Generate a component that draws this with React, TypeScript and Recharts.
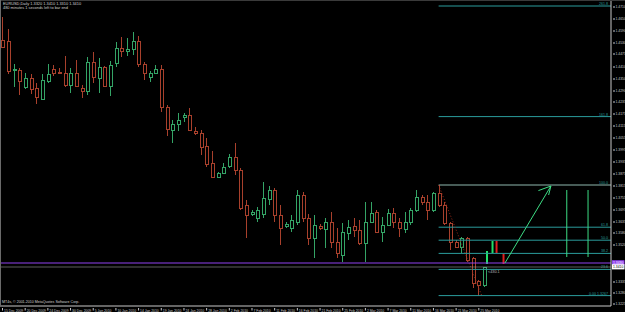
import {
  ComposedChart,
  Bar,
  XAxis,
  YAxis,
  ReferenceLine,
  ReferenceArea,
  ReferenceDot,
} from 'recharts';

// EURUSD daily bars, 15 Dec 2009 .. 26 Mar 2010 (MT4 incl. Sunday bars)
const opens = [
  1.4545, 1.4540, 1.4395, 1.4395, 1.4310, 1.4355, 1.4305, 1.4250, 1.4340, 1.4400,
  1.4385, 1.4380, 1.4320, 1.4380, 1.4305, 1.4290, 1.4435, 1.4355, 1.4410, 1.4315,
  1.4430, 1.4505, 1.4490, 1.4500, 1.4540, 1.4425, 1.4360, 1.4380, 1.4400, 1.4210,
  1.4095, 1.4125, 1.4160, 1.4170, 1.4090, 1.4080, 1.4015, 1.3930, 1.3860, 1.3880,
  1.3915, 1.3960, 1.3895, 1.3720, 1.3675, 1.3655, 1.3675, 1.3750, 1.3795, 1.3670,
  1.3615, 1.3605, 1.3635, 1.3770, 1.3655, 1.3555, 1.3615, 1.3600, 1.3635, 1.3535,
  1.3470, 1.3580, 1.3615, 1.3595, 1.3530, 1.3635, 1.3685, 1.3585, 1.3620, 1.3680,
  1.3635, 1.3600, 1.3635, 1.3695, 1.3760, 1.3735, 1.3695, 1.3780, 1.3720, 1.3630,
  1.3535, 1.3510, 1.3555, 1.3455, 1.3340, 1.3320,
];
const highs = [
  1.4660, 1.4600, 1.4425, 1.4405, 1.4380, 1.4375, 1.4330, 1.4375, 1.4425, 1.4420,
  1.4405, 1.4465, 1.4405, 1.4445, 1.4320, 1.4460, 1.4485, 1.4455, 1.4415, 1.4440,
  1.4535, 1.4560, 1.4555, 1.4585, 1.4565, 1.4435, 1.4390, 1.4420, 1.4420, 1.4220,
  1.4145, 1.4180, 1.4180, 1.4205, 1.4110, 1.4095, 1.4055, 1.3990, 1.3885, 1.3930,
  1.3975, 1.4030, 1.3905, 1.3745, 1.3695, 1.3710, 1.3835, 1.3815, 1.3805, 1.3720,
  1.3635, 1.3670, 1.3795, 1.3785, 1.3675, 1.3670, 1.3625, 1.3655, 1.3685, 1.3605,
  1.3630, 1.3645, 1.3655, 1.3645, 1.3735, 1.3735, 1.3695, 1.3660, 1.3700, 1.3705,
  1.3655, 1.3685, 1.3705, 1.3795, 1.3770, 1.3770, 1.3785, 1.3820, 1.3735, 1.3635,
  1.3545, 1.3560, 1.3560, 1.3460, 1.3345, 1.3410,
];
const lows = [
  1.4505, 1.4375, 1.4310, 1.4270, 1.4300, 1.4275, 1.4225, 1.4245, 1.4330, 1.4365,
  1.4375, 1.4310, 1.4280, 1.4310, 1.4255, 1.4270, 1.4330, 1.4280, 1.4310, 1.4265,
  1.4410, 1.4460, 1.4465, 1.4470, 1.4410, 1.4345, 1.4335, 1.4375, 1.4185, 1.4065,
  1.4030, 1.4090, 1.4135, 1.4090, 1.4070, 1.3970, 1.3910, 1.3855, 1.3855, 1.3875,
  1.3905, 1.3870, 1.3695, 1.3555, 1.3665, 1.3635, 1.3655, 1.3720, 1.3635, 1.3520,
  1.3605, 1.3585, 1.3620, 1.3635, 1.3520, 1.3455, 1.3595, 1.3505, 1.3505, 1.3455,
  1.3435, 1.3545, 1.3560, 1.3520, 1.3435, 1.3630, 1.3580, 1.3535, 1.3615, 1.3605,
  1.3560, 1.3580, 1.3620, 1.3685, 1.3720, 1.3645, 1.3685, 1.3710, 1.3620, 1.3495,
  1.3505, 1.3480, 1.3435, 1.3305, 1.3265, 1.3310,
];
const closes = [
  1.4510, 1.4390, 1.4400, 1.4340, 1.4355, 1.4300, 1.4260, 1.4345, 1.4375, 1.4380,
  1.4380, 1.4320, 1.4380, 1.4315, 1.4290, 1.4435, 1.4360, 1.4410, 1.4315, 1.4420,
  1.4505, 1.4490, 1.4500, 1.4540, 1.4425, 1.4380, 1.4380, 1.4400, 1.4210, 1.4100,
  1.4125, 1.4145, 1.4170, 1.4095, 1.4080, 1.4010, 1.3925, 1.3860, 1.3880, 1.3910,
  1.3960, 1.3895, 1.3705, 1.3670, 1.3685, 1.3695, 1.3755, 1.3795, 1.3670, 1.3605,
  1.3625, 1.3645, 1.3770, 1.3655, 1.3555, 1.3620, 1.3605, 1.3635, 1.3535, 1.3480,
  1.3585, 1.3610, 1.3595, 1.3530, 1.3635, 1.3680, 1.3585, 1.3620, 1.3680, 1.3635,
  1.3605, 1.3635, 1.3695, 1.3760, 1.3735, 1.3695, 1.3780, 1.3720, 1.3630, 1.3535,
  1.3510, 1.3555, 1.3445, 1.3330, 1.3320, 1.3410,
];

const tickBars = [0, 4, 8, 12, 16, 20, 24, 28, 32, 36, 40, 44, 48, 52, 56, 60, 64, 68, 72, 76, 80, 84];
const tickLabels = [
  '15 Dec 2009', '20 Dec 2009', '24 Dec 2009', '30 Dec 2009', '5 Jan 2010', '10 Jan 2010',
  '14 Jan 2010', '19 Jan 2010', '24 Jan 2010', '28 Jan 2010', '2 Feb 2010', '7 Feb 2010',
  '11 Feb 2010', '16 Feb 2010', '21 Feb 2010', '25 Feb 2010', '2 Mar 2010', '7 Mar 2010',
  '11 Mar 2010', '16 Mar 2010', '21 Mar 2010', '25 Mar 2010',
];
const priceTicks = [
  1.4710, 1.4650, 1.4590, 1.4530, 1.4475, 1.4410, 1.4350, 1.4290, 1.4235, 1.4175, 1.4115,
  1.4055, 1.3995, 1.3935, 1.3875, 1.3815, 1.3755, 1.3695, 1.3635, 1.3580, 1.3520, 1.3335,
  1.3280, 1.3225,
];

// fibonacci retracement drawn from the 17 Mar high to the 25 Mar low
const fibNames = ['261.8', '161.8', '100.0', '61.8', '50.0', '38.2', '23.6', '0.00  1.3267'];
const fibPrices = [1.4715, 1.4162, 1.3820, 1.3609, 1.3544, 1.3478, 1.3398, 1.3267];
const fibStart = 77;

const userLine = 1.3430;
const bidPrice = 1.3410;

const BULL = '#34a466';
const BEAR = '#a8402c';
const AXIS = '#c8c8c8';
const FIB = '#2a9c9c';
const DRAW = '#3ddc84';
const X_MAX = 107.4;
const FONT = 'Liberation Sans, Arial, sans-serif';

const candles = opens.map((o, i) => ({ i, o, h: highs[i], l: lows[i], c: closes[i] }));

function Candle(props: any) {
  const { x, y, width, height, payload } = props;
  const { o, h, l, c } = payload;
  const top = Math.min(y, y + height);
  const span = Math.abs(height);
  const toY = (v: number) => top + ((h - v) / (h - l || 1)) * span;
  const cx = Math.round(x + width / 2) + 0.5;
  const color = c >= o ? BULL : BEAR;
  const bTop = Math.round(toY(Math.max(o, c))) + 0.5;
  const bBot = Math.round(toY(Math.min(o, c))) + 0.5;
  return (
    <g>
      <line x1={cx} x2={cx} y1={top} y2={bTop} stroke={color} />
      <line x1={cx} x2={cx} y1={bBot} y2={top + span} stroke={color} />
      <rect x={cx - 1} y={bTop} width={3} height={bBot - bTop} fill="#000" stroke={color} />
    </g>
  );
}

function XTick(props: any) {
  const { x, y, payload } = props;
  const label = tickLabels[tickBars.indexOf(payload.value)];
  return (
    <g>
      <line x1={x + 0.5} x2={x + 0.5} y1={y} y2={y + 2.5} stroke={AXIS} />
      <text x={x + 2} y={y + 3.9} fill={AXIS} fontSize={3.4} fontFamily={FONT}>
        {label}
      </text>
    </g>
  );
}

function YTick(props: any) {
  const { x, y, payload } = props;
  return (
    <g>
      <line x1={x} x2={x + 2} y1={y} y2={y} stroke={AXIS} />
      <text x={x + 2.5} y={y + 1.2} fill={AXIS} fontSize={3.4} fontFamily={FONT}>
        {payload.value.toFixed(4)}
      </text>
    </g>
  );
}

const priceTag = (text: string, bg: string, fg: string) => (p: any) => {
  const { viewBox } = p;
  const x = viewBox.x + viewBox.width;
  return (
    <g>
      <rect x={x + 1} y={viewBox.y - 2.8} width={12.5} height={5.2} fill={bg} />
      <text x={x + 2} y={viewBox.y + 1.2} fill={fg} fontSize={3.4} fontFamily={FONT}>
        {text}
      </text>
    </g>
  );
};

const fibLabel = (text: string) => (p: any) => {
  const { viewBox } = p;
  return (
    <text
      x={viewBox.x + viewBox.width - 3}
      y={viewBox.y - 1}
      textAnchor="end"
      fill={FIB}
      fontSize={3.6}
      fontFamily={FONT}
    >
      {text}
    </text>
  );
};

const noteLabel = (text: string) => (p: any) => {
  const { viewBox } = p;
  return (
    <text x={viewBox.x} y={viewBox.y + 1.5} fill="#b8b8b8" fontSize={3.8} fontFamily={FONT}>
      {text}
    </text>
  );
};

export default function App() {
  return (
    <div style={{ position: 'relative', width: 625, height: 312, background: '#000' }}>
      <style>{'body{margin:0;background:#000}'}</style>
      <ComposedChart width={625} height={312} data={candles} margin={{ top: 0, right: 0, bottom: 0, left: 0 }}>
        <XAxis
          type="number"
          dataKey="i"
          domain={[-0.353, X_MAX]}
          allowDataOverflow
          ticks={tickBars}
          interval={0}
          tick={<XTick />}
          tickLine={false}
          tickSize={0}
          axisLine={{ stroke: AXIS }}
          height={6}
        />
        <YAxis
          orientation="right"
          type="number"
          domain={[1.3215, 1.4745]}
          allowDataOverflow
          ticks={priceTicks}
          interval={0}
          tick={<YTick />}
          tickLine={false}
          tickSize={0}
          axisLine={{ stroke: AXIS }}
          width={14}
        />
        <Bar
          dataKey={(d: any) => [d.l, d.h]}
          shape={<Candle />}
          barSize={4}
          isAnimationActive={false}
        />

        {fibPrices.map((v, k) => (
          <ReferenceLine
            key={fibNames[k]}
            segment={[{ x: fibStart, y: v }, { x: X_MAX, y: v }]}
            stroke={k === 2 ? '#8fb8ae' : FIB}
            label={fibLabel(fibNames[k])}
          />
        ))}
        <ReferenceLine
          segment={[{ x: fibStart, y: fibPrices[2] }, { x: 84.6, y: fibPrices[7] }]}
          stroke="#9a2a1a"
          strokeDasharray="1 2"
        />

        <ReferenceLine y={userLine} stroke="#9040f0" label={priceTag(userLine.toFixed(4), '#9040f0', '#fff')} />
        <ReferenceLine y={bidPrice} stroke="#9a9a9a" strokeWidth={0.6} label={priceTag(bidPrice.toFixed(4), '#fff', '#000')} />

        <ReferenceArea x1={85.36} x2={85.71} y1={1.3425} y2={1.3490} fill="#22e06a" fillOpacity={1} stroke="none" />
        <ReferenceArea x1={86.33} x2={86.68} y1={1.3480} y2={1.3540} fill="#22e06a" fillOpacity={1} stroke="none" />
        <ReferenceArea x1={87.04} x2={87.39} y1={1.3480} y2={1.3540} fill="#e02020" fillOpacity={1} stroke="none" />
        <ReferenceArea x1={88.27} x2={88.62} y1={1.3425} y2={1.3475} fill="#e02020" fillOpacity={1} stroke="none" />

        <ReferenceLine segment={[{ x: 88.7, y: 1.3430 }, { x: 96.8, y: 1.3815 }]} stroke={DRAW} />
        <ReferenceLine segment={[{ x: 94.6, y: 1.3792 }, { x: 96.8, y: 1.3815 }]} stroke={DRAW} />
        <ReferenceLine segment={[{ x: 96.4, y: 1.3770 }, { x: 96.8, y: 1.3815 }]} stroke={DRAW} />
        <ReferenceLine segment={[{ x: 99.6, y: 1.3795 }, { x: 99.6, y: 1.3460 }]} stroke={DRAW} />
        <ReferenceLine segment={[{ x: 103.35, y: 1.3795 }, { x: 103.35, y: 1.3460 }]} stroke={DRAW} />

        <ReferenceDot x={85.7} y={1.3390} r={0} stroke="none" label={noteLabel('<430.1')} />
      </ComposedChart>

      <svg width={625} height={312} style={{ position: 'absolute', left: 0, top: 0, pointerEvents: 'none' }}>
        <line x1={0} x2={625} y1={0.5} y2={0.5} stroke="#3a3a3a" />
        <line x1={0.5} x2={0.5} y1={0} y2={306} stroke="#6a6a6a" />
        <text x={3} y={5} fill="#d0d0d0" fontSize={3.9} fontFamily={FONT}>
          EURUSD,Daily  1.3320 1.3410 1.3310 1.3410
        </text>
        <text x={3} y={9} fill="#d0d0d0" fontSize={3.9} fontFamily={FONT}>
          480 minutes 1 seconds left to bar end
        </text>
        <text x={2} y={303} fill="#d0d0d0" fontSize={3.6} fontFamily={FONT}>
          MT4s, © 2001-2010 MetaQuotes Software Corp.
        </text>
      </svg>
    </div>
  );
}
